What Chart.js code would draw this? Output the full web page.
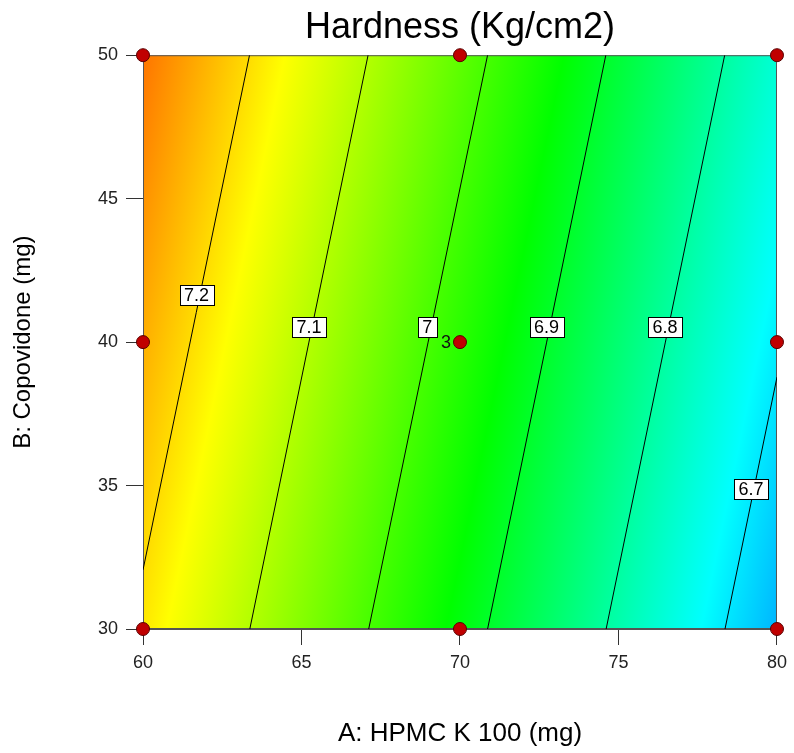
<!DOCTYPE html>
<html>
<head>
<meta charset="utf-8">
<script src="https://cdn.jsdelivr.net/npm/chart.js@4.4.1/dist/chart.umd.min.js"></script>
<style>
  html, body { margin: 0; padding: 0; background: #fff; }
  #wrap { width: 794px; height: 753px; }
</style>
</head>
<body>
<div id="wrap"><canvas id="myChart" width="794" height="753"></canvas></div>
<script>
// Puntos del diseño (A: HPMC K 100, B: Copovidone)
const designA = [60, 60, 60, 70, 70, 70, 80, 80, 80];
const designB = [30, 40, 50, 30, 40, 50, 30, 40, 50];
const replicateLabel = '3'; // punto central (70, 40)

// Curvas de nivel de la dureza
const contourLevels = [7.2, 7.1, 7.0, 6.9, 6.8, 6.7];
const contourA = [[60, 63.36], [63.37, 67.10], [67.12, 70.87], [70.87, 74.60], [74.61, 78.35], [78.36, 80]];
const contourB = [[32.06, 50], [30, 50], [30, 50], [30, 50], [30, 50], [30, 38.78]];
const labelA = [61.69, 65.24, 68.97, 72.73, 76.47, 79.18];
const labelB = [41.64, 40.52, 40.52, 40.52, 40.52, 34.89];

const xTicks = [60, 65, 70, 75, 80];
const yTicks = [30, 35, 40, 45, 50];

// Escala de colores (valor de respuesta -> color)
const colourLevels = [6.50, 6.72, 6.935, 7.17, 7.39];
const colourStops = ['#0000ff', '#00ffff', '#00ff00', '#ffff00', '#ff0000'];

const FONT = "'Liberation Sans', Arial, sans-serif";

// Relleno degradado perpendicular a las curvas de nivel
const gradientFill = {
    id: 'gradientFill',
    beforeDatasetsDraw(chart) {
        const { ctx, chartArea: a, scales: { x, y } } = chart;
        const i1 = 1, i2 = 4;
        const p1 = { x: x.getPixelForValue(contourA[i1][0]), y: y.getPixelForValue(contourB[i1][0]) };
        const q1 = { x: x.getPixelForValue(contourA[i1][1]), y: y.getPixelForValue(contourB[i1][1]) };
        const p2 = { x: x.getPixelForValue(contourA[i2][0]), y: y.getPixelForValue(contourB[i2][0]) };
        let dx = q1.x - p1.x, dy = q1.y - p1.y;
        const len = Math.hypot(dx, dy);
        dx /= len; dy /= len;
        let n = { x: dy, y: -dx };
        let dist = (p2.x - p1.x) * n.x + (p2.y - p1.y) * n.y;
        if (dist < 0) { n = { x: -n.x, y: -n.y }; dist = -dist; }
        const v1 = contourLevels[i1], v2 = contourLevels[i2];
        const at = v => {
            const t = (v - v1) / (v2 - v1) * dist;
            return { x: p1.x + n.x * t, y: p1.y + n.y * t };
        };
        const lo = colourLevels[0], hi = colourLevels[colourLevels.length - 1];
        const s = at(lo), e = at(hi);
        const grad = ctx.createLinearGradient(s.x, s.y, e.x, e.y);
        colourLevels.forEach((v, k) => grad.addColorStop((v - lo) / (hi - lo), colourStops[k]));
        ctx.save();
        ctx.fillStyle = grad;
        ctx.fillRect(a.left, a.top, a.right - a.left, a.bottom - a.top);
        ctx.strokeStyle = '#555';
        ctx.lineWidth = 1;
        ctx.strokeRect(a.left + 0.5, a.top + 0.5, a.right - a.left - 1, a.bottom - a.top - 1);
        ctx.restore();
    },
    afterDatasetsDraw(chart) {
        const { ctx, scales: { x, y } } = chart;
        ctx.save();
        ctx.font = '18px ' + FONT;
        ctx.textAlign = 'center';
        ctx.textBaseline = 'middle';
        contourLevels.forEach((lv, k) => {
            const txt = String(lv);
            const px = x.getPixelForValue(labelA[k]);
            const py = y.getPixelForValue(labelB[k]);
            const w = ctx.measureText(txt).width + 9;
            const h = 20;
            ctx.fillStyle = '#fff';
            ctx.fillRect(Math.round(px - w / 2) + 0.5, Math.round(py - h / 2) + 0.5, Math.round(w), h);
            ctx.strokeStyle = '#000';
            ctx.lineWidth = 1;
            ctx.strokeRect(Math.round(px - w / 2) + 0.5, Math.round(py - h / 2) + 0.5, Math.round(w), h);
            ctx.fillStyle = '#000';
            ctx.fillText(txt, px, py + 1);
        });
        // número de réplicas en el punto central
        ctx.textAlign = 'right';
        ctx.fillStyle = '#111';
        ctx.fillText(replicateLabel, x.getPixelForValue(70) - 9, y.getPixelForValue(40) + 1);
        ctx.restore();
    }
};

function initChart() {
    const ctx = document.getElementById('myChart').getContext('2d');

    const datasets = [{
        label: 'Design points',
        data: designA.map((a, i) => ({ x: a, y: designB[i] })),
        pointRadius: 6.5,
        pointBackgroundColor: '#c00000',
        pointBorderColor: '#5a0000',
        pointBorderWidth: 1,
        showLine: false,
        clip: false
    }];

    contourLevels.forEach((lv, k) => {
        datasets.push({
            label: String(lv),
            data: contourA[k].map((a, i) => ({ x: a, y: contourB[k][i] })),
            showLine: true,
            borderColor: '#000',
            borderWidth: 1,
            pointRadius: 0,
            tension: 0
        });
    });

    new Chart(ctx, {
        type: 'scatter',
        data: { datasets },
        options: {
            responsive: false,
            animation: false,
            devicePixelRatio: 1,
            layout: { padding: { left: 0, right: 13, top: 0, bottom: 0 } },
            plugins: {
                legend: { display: false },
                tooltip: { enabled: false },
                title: {
                    display: true,
                    fullSize: false,
                    text: 'Hardness (Kg/cm2)',
                    color: '#000',
                    font: { family: FONT, size: 36, weight: 'normal' },
                    padding: { top: 6, bottom: 6 }
                }
            },
            scales: {
                x: {
                    type: 'linear',
                    min: 60,
                    max: 80,
                    afterBuildTicks: s => { s.ticks = xTicks.map(v => ({ value: v })); },
                    afterFit: s => { s.height = 124; },
                    grid: { drawOnChartArea: false, tickLength: 16, color: '#333' },
                    border: { color: '#555' },
                    ticks: { padding: 7, color: '#222', font: { family: FONT, size: 18 } },
                    title: {
                        display: true,
                        text: 'A: HPMC K 100 (mg)',
                        color: '#000',
                        font: { family: FONT, size: 26 },
                        padding: { top: 0, bottom: 4 }
                    }
                },
                y: {
                    type: 'linear',
                    min: 30,
                    max: 50,
                    afterBuildTicks: s => { s.ticks = yTicks.map(v => ({ value: v })); },
                    afterFit: s => { s.width = 143; },
                    grid: { drawOnChartArea: false, tickLength: 17, color: '#333' },
                    border: { color: '#555' },
                    ticks: { padding: 8, color: '#222', font: { family: FONT, size: 18 } },
                    title: {
                        display: true,
                        text: 'B: Copovidone (mg)',
                        color: '#000',
                        font: { family: FONT, size: 24 },
                        padding: { top: 9, bottom: 0 }
                    }
                }
            }
        },
        plugins: [gradientFill]
    });
}

document.addEventListener('DOMContentLoaded', initChart);
</script>
</body>
</html>
